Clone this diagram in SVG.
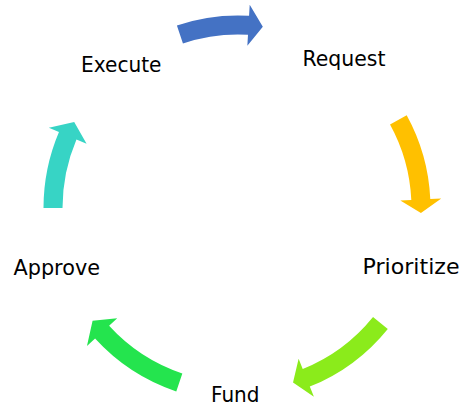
<svg xmlns="http://www.w3.org/2000/svg" width="464" height="407" viewBox="0 0 464 407">
<style>
.lbl{font-family:"DejaVu Sans","Liberation Sans",sans-serif;font-size:21px;fill:#000;}
.arr{stroke:none;}
</style>
<rect width="464" height="407" fill="#fff"/>
<g id="connectors">
<path class="arr" fill="#4472C4" d="M176.9,25.45 A192.5,192.5 0 0 1 249.08,15.82 L249.71,4.84 L262.83,26.7 L247.35,45.77 L247.99,34.79 A173.5,173.5 0 0 0 182.95,43.47 Z"/>
<path class="arr" fill="#FFC000" d="M406.69,115.25 A192.5,192.5 0 0 1 430.29,199.1 L441.28,198.59 L420.93,213.11 L400.33,200.49 L411.31,199.98 A173.5,173.5 0 0 0 390.04,124.41 Z"/>
<path class="arr" fill="#8BEB1B" d="M387.8,328.89 A192.5,192.5 0 0 1 309.8,386.6 L313.91,396.81 L293.03,382.53 L298.61,358.77 L302.72,368.97 A173.5,173.5 0 0 0 373.02,316.96 Z"/>
<path class="arr" fill="#24E44E" d="M176.27,391.4 A193.5,193.5 0 0 1 95.08,338.48 L86.96,345.89 L92.58,320.77 L117.24,318.25 L109.11,325.67 A174.5,174.5 0 0 0 182.33,373.39 Z"/>
<path class="arr" fill="#37D4C5" d="M43.5,208 A194.5,194.5 0 0 1 58.96,132.01 L48.84,127.71 L74.2,122.01 L86.58,143.73 L76.45,139.43 A175.5,175.5 0 0 0 62.5,208 Z"/>
</g>
<g id="request"><text class="lbl" x="302.5" y="66" textLength="83" lengthAdjust="spacingAndGlyphs">Request</text></g>
<g id="prioritize"><text class="lbl" x="362.5" y="273.5" textLength="97" lengthAdjust="spacingAndGlyphs">Prioritize</text></g>
<g id="fund"><text class="lbl" x="211" y="402.3" textLength="48.5" lengthAdjust="spacingAndGlyphs">Fund</text></g>
<g id="approve"><text class="lbl" x="13.5" y="274.5" textLength="86.5" lengthAdjust="spacingAndGlyphs">Approve</text></g>
<g id="execute"><text class="lbl" x="81" y="72" textLength="80.5" lengthAdjust="spacingAndGlyphs">Execute</text></g>
</svg>
